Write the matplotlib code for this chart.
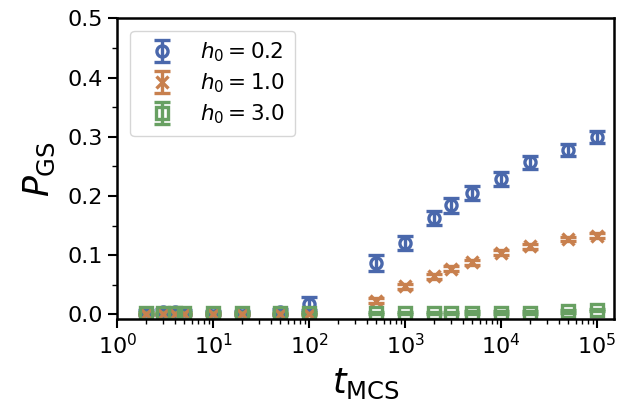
import numpy as np
import matplotlib.pyplot as plt

# =============================================================================
# Data
# =============================================================================

t_mcs = [2, 3, 4, 5, 10, 20, 50, 100,
         500, 1000, 2000, 3000, 5000, 10000, 20000, 50000, 100000]

p_h02 = [0.003, 0.004, 0.004, 0.003, 0.002, 0.002, 0.004, 0.018,
         0.087, 0.121, 0.163, 0.184, 0.205, 0.229, 0.257, 0.278, 0.300]
err_h02 = [0.005, 0.005, 0.005, 0.005, 0.003, 0.003, 0.005, 0.011,
           0.014, 0.012, 0.012, 0.012, 0.012, 0.012, 0.011, 0.010, 0.010]

p_h10 = [0.001, 0.001, 0.001, 0.001, 0.001, 0.001, 0.001, 0.001,
         0.023, 0.047, 0.064, 0.077, 0.088, 0.104, 0.115, 0.127, 0.133]
err_h10 = [0.002, 0.002, 0.002, 0.002, 0.002, 0.002, 0.002, 0.002,
           0.004, 0.004, 0.004, 0.004, 0.004, 0.004, 0.004, 0.004, 0.004]

p_h30 = [0.002, 0.002, 0.002, 0.002, 0.002, 0.002, 0.002, 0.002,
         0.002, 0.002, 0.002, 0.002, 0.003, 0.003, 0.003, 0.005, 0.007]
err_h30 = [0.002, 0.002, 0.002, 0.002, 0.002, 0.002, 0.002, 0.002,
           0.002, 0.002, 0.002, 0.002, 0.002, 0.002, 0.002, 0.002, 0.002]

series = [
    (p_h02, err_h02, "o", "#4A68AC", r"$h_0 = 0.2$"),
    (p_h10, err_h10, "x", "#C8804E", r"$h_0 = 1.0$"),
    (p_h30, err_h30, "s", "#68A062", r"$h_0 = 3.0$"),
]

# =============================================================================
# Figure
# =============================================================================

fig = plt.figure(figsize=(6.17, 4.09), dpi=100)
ax = fig.add_axes([0.19, 0.22, 0.805, 0.735])

for p, err, marker, color, label in series:
    ax.errorbar(
        t_mcs,
        p,
        yerr=err,
        fmt=marker,
        color=color,
        mfc="none",
        mec=color,
        ms=8,
        mew=2.4,
        elinewidth=2.4,
        capsize=6,
        capthick=2.4,
        label=label,
    )

ax.set_xscale("log")
ax.set_xlim(1, 1.5e5)
ax.set_ylim(-0.008, 0.5)
ax.set_yticks(np.arange(0, 0.51, 0.1))
ax.set_yticks(np.arange(0.05, 0.5, 0.1), minor=True)
ax.set_xticks([1e0, 1e1, 1e2, 1e3, 1e4, 1e5])

ax.set_xlabel(r"$t_{\mathrm{MCS}}$", fontsize=25, labelpad=6)
ax.set_ylabel(r"$P_{\mathrm{GS}}$", fontsize=25, labelpad=8)

ax.tick_params(axis="both", which="major", labelsize=16, length=6.5, width=1.5)
ax.tick_params(axis="both", which="minor", length=3.5, width=1.0)

for spine in ax.spines.values():
    spine.set_linewidth(1.8)

ax.legend(
    loc="upper left",
    fontsize=15.5,
    frameon=True,
    borderpad=0.45,
    labelspacing=0.35,
    handlelength=2.0,
    bbox_to_anchor=(0.005, 0.995),
)

plt.savefig("out.png", dpi=100)
